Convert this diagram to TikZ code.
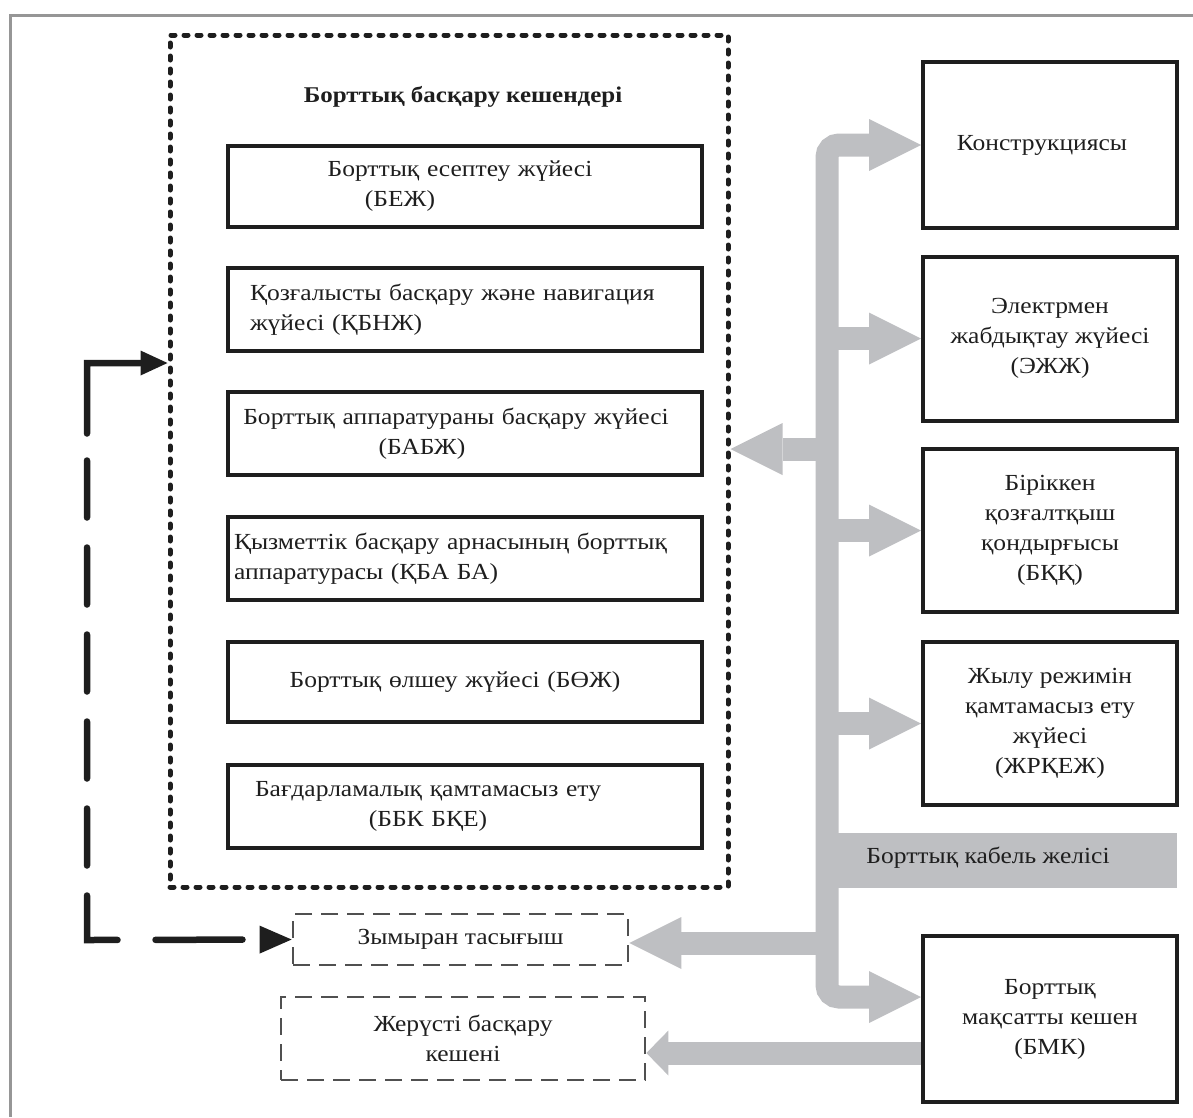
\documentclass[tikz,border=0pt]{standalone}
\usepackage{fontspec}
\setmainfont[FakeStretch=1.11]{Liberation Serif}
\usetikzlibrary{arrows.meta}
\definecolor{cablegray}{RGB}{190,191,194}
\definecolor{ink}{RGB}{30,30,30}
\definecolor{framegray}{RGB}{150,150,150}
\begin{document}
\begin{tikzpicture}[x=1pt,y=-1pt,
  txt/.style={font=\fontsize{23}{30}\selectfont, text=ink},
  sysbox/.style={draw=ink, line width=4pt, minimum width=474pt, inner ysep=0pt, txt},
  rbox/.style={draw=ink, line width=4pt, minimum width=254pt, align=center, txt},
  dbox/.style={draw=ink!78, line width=2.8pt, dash pattern=on 17pt off 9pt, align=center, txt},
  bus/.style={draw=cablegray, line width=23pt},
  bigtip/.style={-{Triangle[length=52pt,width=52pt,line width=0pt]}},
]
\useasboundingbox (0,0) rectangle (1193,1117);
% outer frame
\draw[framegray, line width=3pt] (1193,15) -- (10,15) -- (10,1117);

% big dotted complex
\node[draw=ink, line width=5pt, line cap=round, dash pattern=on 4pt off 9pt,
      minimum width=558pt, minimum height=852pt, inner sep=0pt] (bbk) at (449,461) {};
\node[font=\bfseries\fontsize{22.5}{28}\selectfont, text=ink] (title) at (463,97) {Борттық басқару кешендері};

\node[sysbox, minimum height=81pt, text width=422pt, inner xsep=26pt, align=center] (b1) at (465,186.5)
  {Борттық есептеу жүйесі\hspace*{10pt}\null\\(БЕЖ)\hspace*{130pt}\null};
\node[sysbox, minimum height=83pt, text width=430pt, inner xsep=22pt, align=left] (b2) at (465,309.5)
  {Қозғалысты басқару және навигация\\жүйесі (ҚБНЖ)};
\node[sysbox, minimum height=83pt, text width=456pt, inner xsep=9pt, align=center] (b3) at (465,433.5)
  {Борттық аппаратураны басқару жүйесі\hspace*{18pt}\null\\(БАБЖ)\hspace*{86pt}\null};
\node[sysbox, minimum height=83pt, text width=462pt, inner xsep=6pt, align=left] (b4) at (465,558.5)
  {Қызметтік басқару арнасының борттық\\аппаратурасы (ҚБА БА)};
\node[sysbox, minimum height=80pt, text width=422pt, inner xsep=26pt, align=center] (b5) at (465,682)
  {Борттық өлшеу жүйесі (БӨЖ)\hspace*{20pt}\null};
\node[sysbox, minimum height=83pt, text width=422pt, inner xsep=26pt, align=center] (b6) at (465,806.5)
  {Бағдарламалық қамтамасыз ету\hspace*{74pt}\null\\(ББК БҚЕ)\hspace*{74pt}\null};

% right-hand boxes
\node[rbox, minimum height=166pt] (r1) at (1050,145) {Конструкциясы\hspace*{16pt}\null};
\node[rbox, minimum height=164pt] (r2) at (1050,338.5) {Электрмен\\жабдықтау жүйесі\\(ЭЖЖ)};
\node[rbox, minimum height=163pt] (r3) at (1050,530.5) {Біріккен\\қозғалтқыш\\қондырғысы\\(БҚҚ)};
\node[rbox, minimum height=163pt] (r4) at (1050,723.5) {Жылу режимін\\қамтамасыз ету\\жүйесі\\(ЖРҚЕЖ)};
\node[rbox, minimum height=166pt] (r5) at (1050,1019) {Борттық\\мақсатты кешен\\(БМК)};

% dashed boxes
\node[dbox, minimum width=335pt, minimum height=51pt] (zym) at (460.5,939.5) {Зымыран тасығыш};
\node[dbox, minimum width=364pt, minimum height=83pt] (zher) at (463,1038.5) {Жерүсті басқару\\кешені};

% cable band
\node[fill=cablegray, minimum width=347pt, minimum height=55pt, inner sep=0pt] (cable) at (1003.5,860.5) {};
\node[txt] (cablelbl) at (988,858) {Борттық кабель желісі};

% bus trunk
\coordinate (tx) at (827,0);
\coordinate (r5arm) at ([yshift=22pt]r5.west);
\coordinate (bbkin) at ([yshift=12pt]bbk.east);
\coordinate (zymin) at ([yshift=-3.5pt]zym.east);
\coordinate (zherin) at ([yshift=-14.5pt]zher.east);
\coordinate (r5out) at ([yshift=-34pt]r5.west);
\draw[bus, rounded corners=12pt,
  {Triangle[length=52pt,width=52pt,line width=0pt]}-{Triangle[length=52pt,width=52pt,line width=0pt]}]
  (r1.west) -- (tx |- r1.west) -- (tx |- r5arm) -- (r5arm);
\draw[bus, bigtip] (tx |- r2.west) -- (r2.west);
\draw[bus, bigtip] (tx |- r3.west) -- (r3.west);
\draw[bus, bigtip] (tx |- r4.west) -- (r4.west);
\draw[bus, bigtip] (tx |- bbkin) -- (bbkin);
\draw[bus, bigtip] (tx |- zymin) -- (zymin);
\draw[bus, -{Triangle[length=22pt,width=45pt,line width=0pt]}] (r5out) -- (zherin);

% black dashed feedback arrow
\coordinate (fbtop) at ([yshift=98pt]bbk.west);
\coordinate (c1) at (87,363);
\coordinate (c2) at (87,940);
\draw[ink, line width=6.5pt, line cap=round, line join=miter,
  {Triangle[length=27pt,width=25pt,line width=0pt]}-{Triangle[length=32pt,width=28pt,line width=0pt]},
  dash pattern=on 124pt off 27pt on 57pt off 30pt on 57pt off 30pt on 57pt off 30pt
               on 57pt off 30pt on 57pt off 30pt on 75pt off 38pt on 87pt off 100pt]
  (fbtop) -- (c1) -- (c2) -- (zym.west);
\end{tikzpicture}
\end{document}
